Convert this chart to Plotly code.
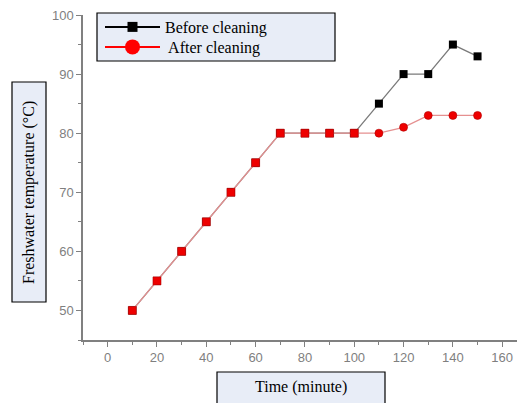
import plotly.graph_objects as go

time_min = [10, 20, 30, 40, 50, 60, 70, 80, 90, 100, 110, 120, 130, 140, 150]
before_cleaning = [50, 55, 60, 65, 70, 75, 80, 80, 80, 80, 85, 90, 90, 95, 93]
after_cleaning = [50, 55, 60, 65, 70, 75, 80, 80, 80, 80, 80, 81, 83, 83, 83]
after_symbols = ["square" if b == a else "circle" for b, a in zip(before_cleaning, after_cleaning)]

W, H = 517, 403
L, R, T, B = 83, 0, 15, 63
pw, ph = W - L - R, H - T - B

def px(x):
    return (x - L) / pw

def py(y):
    return (H - B - y) / ph

fig = go.Figure()
fig.add_trace(go.Scatter(
    x=time_min, y=before_cleaning, mode="lines+markers",
    line=dict(color="#7a7a7a", width=1.3),
    marker=dict(symbol="square", size=8, color="black"),
    showlegend=False))
fig.add_trace(go.Scatter(
    x=time_min, y=after_cleaning, mode="lines+markers",
    line=dict(color="#e59090", width=1.3),
    marker=dict(symbol=after_symbols, size=8, color="#ee0000",
                line=dict(color="#b00000", width=0.6)),
    showlegend=False))
# legend entries
fig.add_trace(go.Scatter(
    x=[None], y=[None], mode="lines+markers", name="Before cleaning",
    line=dict(color="black", width=2),
    marker=dict(symbol="square", size=10, color="black"), legend="legend"))
fig.add_trace(go.Scatter(
    x=[None], y=[None], mode="lines+markers", name=" After cleaning",
    line=dict(color="red", width=2),
    marker=dict(symbol="circle", size=15, color="red"), legend="legend2"))

tickfont = dict(family="Liberation Sans, Arial", size=13, color="#7f7f7f")
fig.update_xaxes(range=[-10, 166], dtick=20, tick0=0, ticks="outside", ticklen=5,
                 tickcolor="#808080", tickwidth=1.2, showline=True, linecolor="#808080",
                 linewidth=1.5, showgrid=False, zeroline=False, tickfont=tickfont,
                 minor=dict(dtick=10, tick0=0, ticks="outside", ticklen=3, tickcolor="#808080"))
fig.update_yaxes(range=[45, 100], dtick=10, tick0=0, ticks="outside", ticklen=5,
                 tickcolor="#808080", tickwidth=1.2, showline=True, linecolor="#808080",
                 linewidth=1.5, showgrid=False, zeroline=False, tickfont=tickfont,
                 minor=dict(dtick=5, tick0=0, ticks="outside", ticklen=3, tickcolor="#808080"))

boxfill = "#e8edf7"
shapes = [
    dict(type="rect", xref="paper", yref="paper", x0=px(97), x1=px(335), y0=py(61), y1=py(13),
         fillcolor=boxfill, line=dict(color="black", width=1.2), layer="below"),
    dict(type="rect", xref="paper", yref="paper", x0=px(12), x1=px(46), y0=py(302), y1=py(82),
         fillcolor=boxfill, line=dict(color="black", width=1.2)),
    dict(type="rect", xref="paper", yref="paper", x0=px(217), x1=px(385), y0=py(410), y1=py(372),
         fillcolor=boxfill, line=dict(color="black", width=1.2)),
]
serif = dict(family="Liberation Serif, Times New Roman", size=16, color="black")
annotations = [
    dict(text="Freshwater temperature (°C)", xref="paper", yref="paper", x=px(29), y=py(193),
         showarrow=False, textangle=-90, font=serif, xanchor="center", yanchor="middle"),
    dict(text="Time (minute)", xref="paper", yref="paper", x=px(301), y=py(387),
         showarrow=False, font=serif, xanchor="center", yanchor="middle"),
]

leg_common = dict(xanchor="left", yanchor="middle", bgcolor="rgba(0,0,0,0)", borderwidth=0,
                  font=serif, itemwidth=55, itemsizing="trace")
fig.update_layout(
    width=W, height=H, margin=dict(l=L, r=R, t=T, b=B),
    paper_bgcolor="white", plot_bgcolor="white",
    shapes=shapes, annotations=annotations,
    legend=dict(x=px(100), y=py(27), **leg_common),
    legend2=dict(x=px(100), y=py(47), **leg_common),
)
fig.write_html("out.html", config={"displayModeBar": False},
               post_script="document.body.style.margin='0';")
